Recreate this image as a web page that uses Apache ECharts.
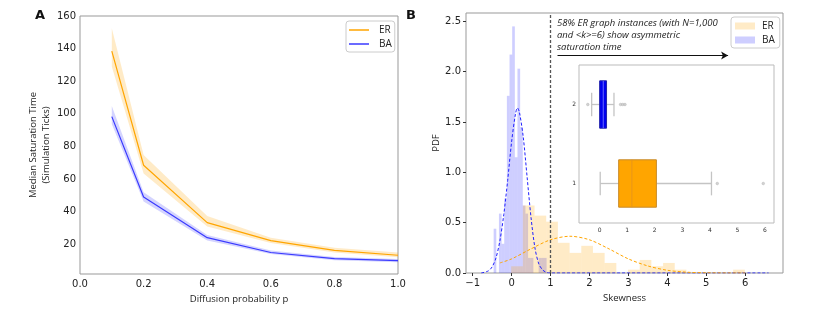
<!DOCTYPE html>
<html><head><meta charset="utf-8">
<script src="https://cdn.jsdelivr.net/npm/echarts@6/dist/echarts.min.js"></script>
<style>html,body{margin:0;padding:0;background:#fff}#c{width:830px;height:312px}</style>
</head><body><div id="c"></div>
<script>
// ---------- Panel A data ----------
const pValues   = [0.1, 0.2, 0.4, 0.6, 0.8, 1.0];
const erMedian  = [138.5, 68.5, 33.3, 22.3, 16.3, 13.3];
const erLow     = [129.0, 63.5, 31.0, 20.8, 15.0, 12.0];
const erHigh    = [152.5, 74.8, 37.4, 24.1, 17.9, 15.0];
const baMedian  = [98.3, 49.0, 24.1, 15.0, 11.2, 10.0];
const baLow     = [93.8, 46.2, 22.3, 14.0, 10.2, 9.0];
const baHigh    = [104.8, 51.9, 25.7, 16.2, 12.2, 11.0];
const aXTicks   = [0, 0.2, 0.4, 0.6, 0.8, 1.0];
const aYTicks   = [20, 40, 60, 80, 100, 120, 140, 160];

// ---------- Panel B data ----------
const erBinEdges = [-0.01,0.29,0.59,0.89,1.19,1.49,1.79,2.09,2.39,2.69,2.99,3.29,3.59,3.89,4.19,4.49,4.79,5.09,5.39,5.69,5.99];
const erDensity  = [0.067,0.67,0.57,0.51,0.30,0.20,0.27,0.20,0.10,0,0.033,0.13,0.067,0.10,0.033,0,0,0,0,0.033];
const baBinEdges = [-0.46,-0.392,-0.324,-0.256,-0.188,-0.12,-0.052,0.016,0.084,0.152,0.22,0.288,0.356,0.424,0.492,0.56,0.628,0.696,0.764,0.832,0.90];
const baDensity  = [0.44,0,0.59,0.29,0.74,1.76,2.17,2.45,1.15,2.03,1.45,0.67,0.59,0.15,0.15,0,0,0.15,0.15,0.15];
const baFitX = [-0.78,-0.6,-0.5,-0.4,-0.3,-0.2,-0.1,0.0,0.1,0.15,0.2,0.3,0.4,0.5,0.6,0.7,0.8,0.9,1.0,6.6];
const baFitY = [0,0.02,0.06,0.15,0.32,0.58,0.92,1.30,1.58,1.64,1.60,1.35,0.95,0.55,0.25,0.09,0.03,0.005,0,0];
const erFitX = [-0.3,0,0.5,1.0,1.5,2.0,2.5,3.0,3.5,4.0,4.5,5.0,6.0];
const erFitY = [0.10,0.14,0.24,0.33,0.365,0.33,0.24,0.14,0.07,0.027,0.008,0.002,0];
const bXTicks = [-1,0,1,2,3,4,5,6];
const bYTicks = [0,0.5,1.0,1.5,2.0,2.5];
const thresholdX = 1;
const arrowStart = [1.18, 2.16];
const arrowEnd   = [5.56, 2.16];
const noteLines = ['58% ER graph instances (with N=1,000', 'and <k>=6) show asymmetric', 'saturation time'];

// ---------- Inset boxplot data ----------
const boxCategories = ['1', '2'];
// [low whisker, Q1, median, Q3, high whisker]
const erBox = [0.02, 0.69, 1.17, 2.06, 4.06];
const baBox = [-0.29, 0.0, 0.13, 0.25, 0.52];
const erOutliers = [4.27, 5.94];
const baOutliers = [-0.43, 0.76, 0.84, 0.92];
const insetXTicks = [0,1,2,3,4,5,6];

const ORANGE = '#FFA500', BLUE = '#3a3aff';
const tickFont = 'DejaVu Sans', nameFont = 'Open Sans';
const fmtMinus = v => String(v).replace('-', '\u2212');

function bandSeries(name, xs, lo, hi, color) {
  return {
    type: 'custom', name: name, xAxisIndex: 0, yAxisIndex: 0, silent: true, z: 1,
    data: [[xs[0], lo[0]]],
    renderItem: function (params, api) {
      const pts = [];
      for (let i = 0; i < xs.length; i++) pts.push(api.coord([xs[i], hi[i]]));
      for (let i = xs.length - 1; i >= 0; i--) pts.push(api.coord([xs[i], lo[i]]));
      return { type: 'polygon', shape: { points: pts }, style: { fill: color } };
    }
  };
}
function histSeries(name, edges, dens, color, z) {
  const data = [];
  for (let i = 0; i < dens.length; i++) if (dens[i] > 0) data.push([edges[i], edges[i + 1], dens[i]]);
  return {
    type: 'custom', name: name, xAxisIndex: 1, yAxisIndex: 1, silent: true, z: z,
    encode: { x: [0, 1], y: 2 },
    data: data,
    renderItem: function (params, api) {
      const p0 = api.coord([api.value(0), 0]);
      const p1 = api.coord([api.value(1), api.value(2)]);
      return { type: 'rect', shape: { x: p0[0], y: p1[1], width: p1[0] - p0[0], height: p0[1] - p1[1] }, style: { fill: color } };
    }
  };
}
function zip(a, b) { return a.map((v, i) => [v, b[i]]); }

const boxData = [
  [0].concat(erBox),
  [1].concat(baBox)
];
const boxFill = [ORANGE, '#0000ee'];
const boxEdge = ['#c88a2a', '#2222aa'];
const boxMed  = ['#e8951a', '#6a6aff'];

const noLine = { show: false, onZero: false };
const chart = echarts.init(document.getElementById('c'), null, { renderer: 'canvas' });
const option = {
  animation: false,
  backgroundColor: '#fff',
  grid: [
    { left: 80, top: 16, width: 318, height: 258, show: true, borderColor: '#999', borderWidth: 1, containLabel: false },
    { left: 466, top: 13, width: 317, height: 260, show: true, borderColor: '#999', borderWidth: 1, containLabel: false },
    { left: 579, top: 65, width: 195, height: 158, show: true, borderColor: '#bbb', borderWidth: 1, backgroundColor: '#fff', containLabel: false, z: 5 }
  ],
  xAxis: [
    { gridIndex: 0, type: 'value', min: 0, max: 1, splitLine: { show: false },
      axisLine: noLine, axisTick: { show: false, customValues: aXTicks },
      axisLabel: { customValues: aXTicks, formatter: v => v.toFixed(1), fontFamily: tickFont, fontSize: 10, color: '#222', margin: 5 },
      name: 'Diffusion probability p', nameLocation: 'middle', nameGap: 15,
      nameTextStyle: { fontFamily: nameFont, fontSize: 9.5, color: '#222' } },
    { gridIndex: 1, type: 'value', min: -1.17, max: 6.97, splitLine: { show: false },
      axisLine: noLine, axisTick: { show: true, length: 3, customValues: bXTicks, lineStyle: { color: '#333' } },
      axisLabel: { customValues: bXTicks, formatter: fmtMinus, fontFamily: tickFont, fontSize: 10, color: '#222', margin: 5 },
      name: 'Skewness', nameLocation: 'middle', nameGap: 15,
      nameTextStyle: { fontFamily: nameFont, fontSize: 9.5, color: '#222' } },
    { gridIndex: 2, type: 'value', min: -0.75, max: 6.33, splitLine: { show: false },
      axisLine: noLine, axisTick: { show: false, customValues: insetXTicks },
      axisLabel: { customValues: insetXTicks, fontFamily: tickFont, fontSize: 6, color: '#333', margin: 4 } }
  ],
  yAxis: [
    { gridIndex: 0, type: 'value', min: 1.8, max: 160, splitLine: { show: false },
      axisLine: noLine, axisTick: { show: false, customValues: aYTicks },
      axisLabel: { customValues: aYTicks, fontFamily: tickFont, fontSize: 10, color: '#222', margin: 4 },
      name: 'Median Saturation Time\n(Simulation Ticks)', nameLocation: 'middle', nameGap: 23, nameRotate: 90,
      nameTextStyle: { fontFamily: nameFont, fontSize: 9.5, color: '#222', lineHeight: 13 } },
    { gridIndex: 1, type: 'value', min: 0, max: 2.583, splitLine: { show: false },
      axisLine: noLine, axisTick: { show: true, length: 3, customValues: bYTicks, lineStyle: { color: '#333' } },
      axisLabel: { customValues: bYTicks, formatter: v => v.toFixed(1), fontFamily: tickFont, fontSize: 10, color: '#222', margin: 5 },
      name: 'PDF', nameLocation: 'middle', nameGap: 24, nameRotate: 90,
      nameTextStyle: { fontFamily: nameFont, fontSize: 9.5, color: '#222' } },
    { gridIndex: 2, type: 'category', data: boxCategories, splitLine: { show: false },
      axisLine: noLine, axisTick: { show: false },
      axisLabel: { fontFamily: tickFont, fontSize: 6, color: '#333', margin: 3 } }
  ],
  legend: [
    { orient: 'vertical', left: 346, top: 21, padding: [4, 3, 3, 3], itemGap: 4,
      borderColor: '#ccc', borderWidth: 1, borderRadius: 3, backgroundColor: '#fff',
      itemWidth: 20, itemHeight: 1.5, icon: 'rect',
      textStyle: { fontFamily: nameFont, fontSize: 10, color: '#222', padding: [0, 0, 0, 5] },
      data: [{ name: 'ER', itemStyle: { color: ORANGE } }, { name: 'BA', itemStyle: { color: BLUE } }] },
    { orient: 'vertical', left: 731, top: 17, padding: [4, 5, 3, 4], itemGap: 4,
      borderColor: '#ccc', borderWidth: 1, borderRadius: 3, backgroundColor: '#fff',
      itemWidth: 20, itemHeight: 7, icon: 'rect',
      textStyle: { fontFamily: nameFont, fontSize: 10, color: '#222', padding: [0, 0, 0, 2] },
      data: [{ name: 'ER', itemStyle: { color: 'rgba(255,165,0,0.22)' } }, { name: 'BA', itemStyle: { color: 'rgba(60,60,255,0.25)' } }] }
  ],
  graphic: [
    { type: 'text', left: 35, top: 9, style: { text: 'A', font: 'bold 13px "DejaVu Sans"', fill: '#111' } },
    { type: 'text', left: 406, top: 9, style: { text: 'B', font: 'bold 13px "DejaVu Sans"', fill: '#111' } },
    { type: 'text', left: 557, top: 17, style: { text: noteLines.join('\n'), font: 'italic 9.5px "Open Sans"', lineHeight: 12, fill: '#222' } }
  ],
  series: [
    bandSeries('erBand', pValues, erLow, erHigh, 'rgba(255,165,0,0.22)'),
    bandSeries('baBand', pValues, baLow, baHigh, 'rgba(60,60,255,0.22)'),
    { type: 'line', name: 'ER', xAxisIndex: 0, yAxisIndex: 0, data: zip(pValues, erMedian), symbol: 'none',
      lineStyle: { color: ORANGE, width: 1.2 }, itemStyle: { color: ORANGE }, z: 3 },
    { type: 'line', name: 'BA', xAxisIndex: 0, yAxisIndex: 0, data: zip(pValues, baMedian), symbol: 'none',
      lineStyle: { color: BLUE, width: 1.2 }, itemStyle: { color: BLUE }, z: 3 },
    histSeries('BA', baBinEdges, baDensity, 'rgba(60,60,255,0.25)', 2),
    histSeries('ER', erBinEdges, erDensity, 'rgba(255,165,0,0.22)', 3),
    { type: 'line', name: 'baFit', xAxisIndex: 1, yAxisIndex: 1, data: zip(baFitX, baFitY), symbol: 'none', smooth: 0.3,
      lineStyle: { color: '#2020ff', width: 1, type: [3, 2] }, z: 4,
      markLine: { silent: true, symbol: ['none', 'none'], label: { show: false },
        lineStyle: { color: '#555', width: 1.3, type: [3, 2] },
        data: [{ xAxis: thresholdX }] } },
    { type: 'line', name: 'erFit', xAxisIndex: 1, yAxisIndex: 1, data: zip(erFitX, erFitY), symbol: 'none', smooth: 0.3,
      lineStyle: { color: ORANGE, width: 1, type: [3, 2] }, z: 4,
      markLine: { silent: true, symbol: ['none', 'arrow'], symbolSize: [6, 7], label: { show: false },
        lineStyle: { color: '#111', width: 1.2, type: 'solid' },
        data: [[{ coord: arrowStart }, { coord: arrowEnd }]] } },
    { type: 'custom', name: 'box', xAxisIndex: 2, yAxisIndex: 2, silent: true, z: 6,
      encode: { x: [1, 2, 3, 4, 5], y: 0 },
      data: boxData,
      renderItem: function (params, api) {
        const cat = api.value(0), i = params.dataIndex;
        const band = api.size([0, 1])[1];
        const hb = band * 0.3, hc = band * 0.15;
        const lo = api.coord([api.value(1), cat]), q1 = api.coord([api.value(2), cat]),
              md = api.coord([api.value(3), cat]), q3 = api.coord([api.value(4), cat]),
              hi = api.coord([api.value(5), cat]);
        const y = lo[1];
        const wStyle = { stroke: '#c4c4c4', lineWidth: 1.3 };
        return { type: 'group', children: [
          { type: 'line', shape: { x1: lo[0], y1: y, x2: q1[0], y2: y }, style: wStyle },
          { type: 'line', shape: { x1: q3[0], y1: y, x2: hi[0], y2: y }, style: wStyle },
          { type: 'line', shape: { x1: lo[0], y1: y - hc, x2: lo[0], y2: y + hc }, style: wStyle },
          { type: 'line', shape: { x1: hi[0], y1: y - hc, x2: hi[0], y2: y + hc }, style: wStyle },
          { type: 'rect', shape: { x: q1[0], y: y - hb, width: q3[0] - q1[0], height: 2 * hb },
            style: { fill: boxFill[i], stroke: boxEdge[i], lineWidth: 1 } },
          { type: 'line', shape: { x1: md[0], y1: y - hb, x2: md[0], y2: y + hb }, style: { stroke: boxMed[i], lineWidth: 1 } }
        ] };
      } },
    { type: 'scatter', name: 'outliers', xAxisIndex: 2, yAxisIndex: 2, silent: true, z: 7, symbol: 'circle', symbolSize: 2.6,
      itemStyle: { color: '#c8c8c8', borderColor: '#aaa', borderWidth: 0.5 },
      data: erOutliers.map(v => [v, 0]).concat(baOutliers.map(v => [v, 1])) }
  ]
};
chart.setOption(option);
</script>
</body></html>
